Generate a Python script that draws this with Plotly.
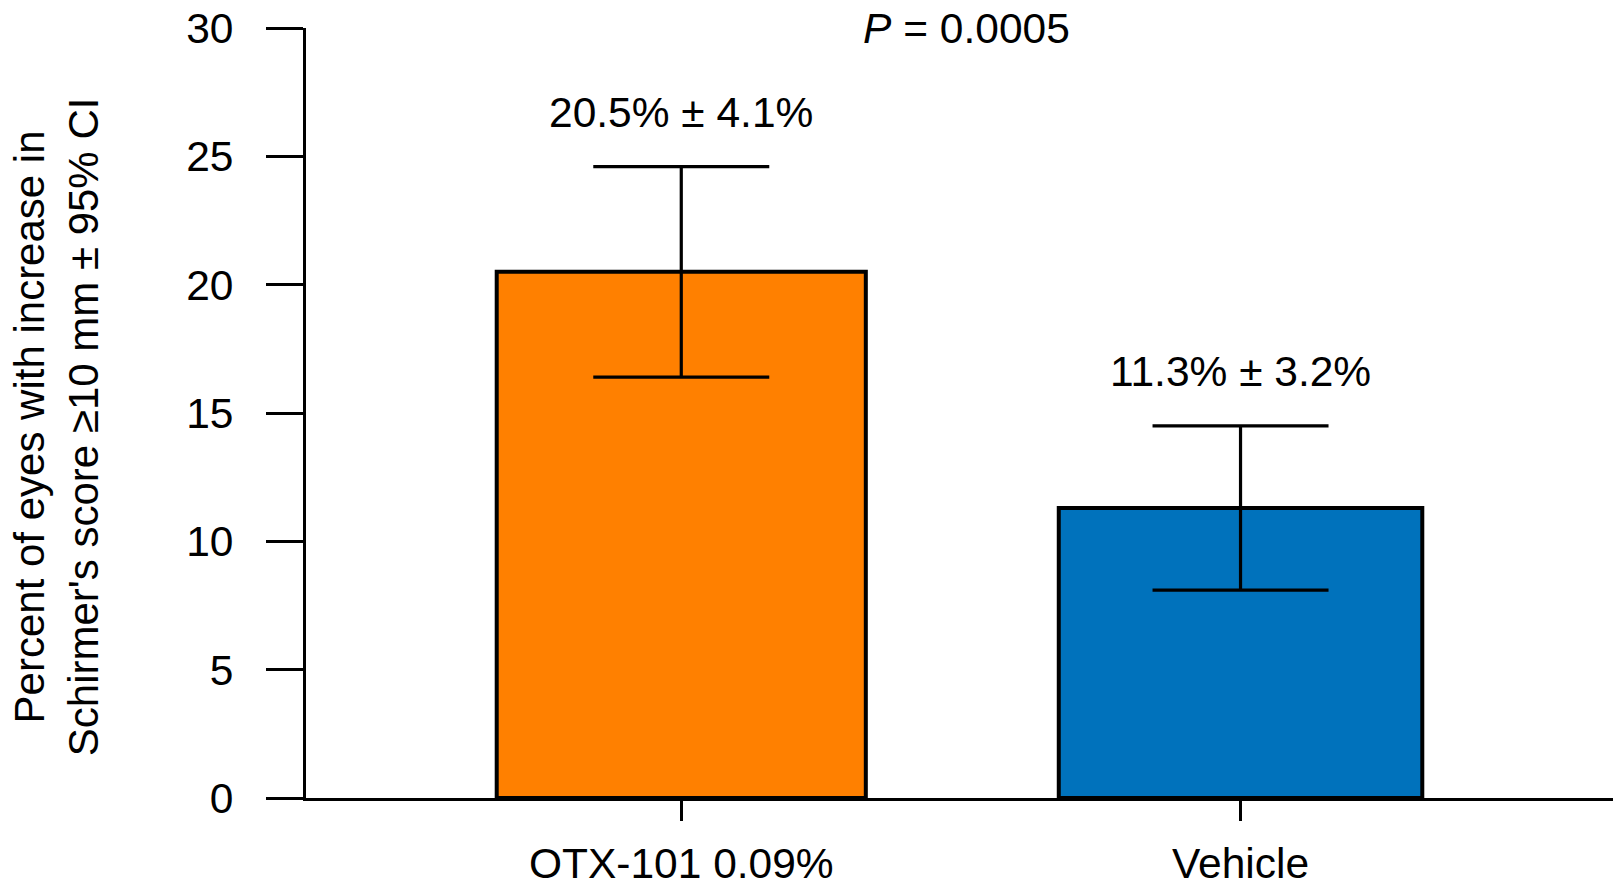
import plotly.graph_objects as go

# Data
categories = ["OTX-101 0.09%", "Vehicle"]
percent_eyes = [20.5, 11.3]
ci_95 = [4.1, 3.2]
bar_colors = ["#FF8000", "#0072BC"]
value_labels = ["20.5% ± 4.1%", "11.3% ± 3.2%"]
p_value_text = "<i>P</i> = 0.0005"
y_ticks = [0, 5, 10, 15, 20, 25, 30]

FONT = "Liberation Sans, Arial, sans-serif"
FS = 42.5

fig = go.Figure()
fig.add_trace(go.Bar(
    x=categories,
    y=percent_eyes,
    width=[0.66, 0.65],
    marker=dict(color=bar_colors, line=dict(color="black", width=4)),
    error_y=dict(type="data", array=ci_95, visible=True,
                 color="black", thickness=3.2, width=88),
    hoverinfo="skip",
))

# Value labels above the error bars
for cat, v, e, txt in zip(categories, percent_eyes, ci_95, value_labels):
    fig.add_annotation(x=cat, y=v + e, text=txt, showarrow=False,
                       yanchor="middle", yshift=54,
                       font=dict(family=FONT, size=FS, color="black"))

# P-value
fig.add_annotation(x=0.51, y=30, xref="x", yref="y", text=p_value_text,
                   showarrow=False, yanchor="middle",
                   font=dict(family=FONT, size=FS, color="black"))

# Y-axis title (two lines)
fig.add_annotation(
    x=-0.191, y=0.482, xref="paper", yref="paper",
    text="Percent of eyes with increase in<br>Schirmer's score ≥10 mm ± 95% CI",
    textangle=-90, showarrow=False, xanchor="center", yanchor="middle",
    font=dict(family=FONT, size=42, color="black"),
)

fig.update_layout(
    width=1613, height=887,
    margin=dict(l=306, r=0, t=28, b=81),
    paper_bgcolor="white", plot_bgcolor="white",
    showlegend=False,
    font=dict(family=FONT, size=FS, color="black"),
)
fig.update_xaxes(
    range=[-0.671, 1.666],
    showline=True, linecolor="black", linewidth=3,
    ticks="outside", ticklen=20, tickwidth=3, tickcolor="black",
    tickfont=dict(family=FONT, size=FS, color="black"),
    ticklabelstandoff=6,
    showgrid=False, zeroline=False,
)
fig.update_yaxes(
    range=[0, 30],
    tickvals=y_ticks,
    showline=True, linecolor="black", linewidth=3,
    ticks="outside", ticklen=37, tickwidth=3, tickcolor="black",
    tickfont=dict(family=FONT, size=FS, color="black"),
    ticklabelstandoff=24,
    showgrid=False, zeroline=False,
)

fig.write_html("out.html")
